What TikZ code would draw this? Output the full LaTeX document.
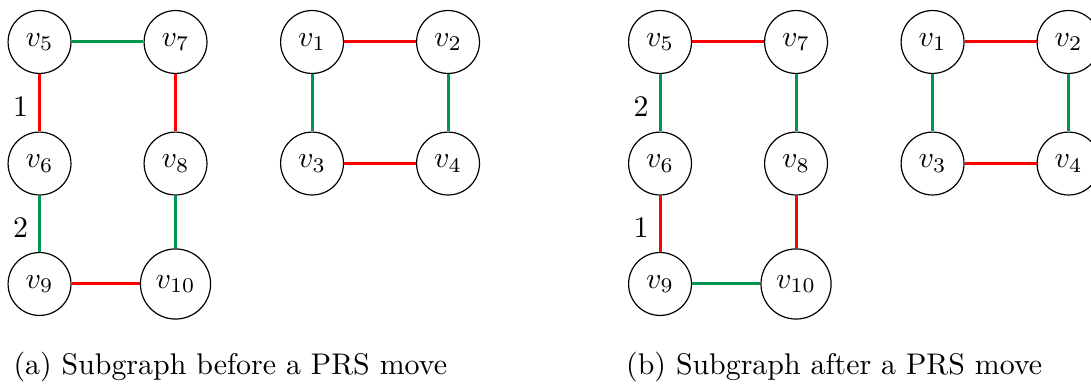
\documentclass[tikz,border=0pt]{standalone}
\usepackage{amsmath,amssymb}
\usepackage{tikz}
\usetikzlibrary{positioning}

\definecolor{edgegreen}{RGB}{0,150,80}

\begin{document}
\begin{tikzpicture}[vertex/.style={draw, circle, minimum size=0.74cm},
                    redge/.style={red, line width=1pt},
                    gedge/.style={edgegreen, line width=1pt},
                    elabel/.style={midway, left, text=black, yshift=-1.2pt}]

        \useasboundingbox (0,0) rectangle (12.835,-4.553);

        % Left subgraph, before the move

        \node[vertex] (a5) at (0.465,-0.494) {$v_5$};
        \node[vertex] (a7) at (2.065,-0.494) {$v_7$};
        \node[vertex] (a6) at (0.465,-1.924) {$v_6$};
        \node[vertex] (a8) at (2.065,-1.924) {$v_8$};
        \node[vertex] (a9) at (0.465,-3.341) {$v_9$};
        \node[vertex] (a10) at (2.065,-3.341) {$v_{10}$};

        \node[vertex] (a1) at (3.671,-0.494) {$v_1$};
        \node[vertex] (a2) at (5.271,-0.494) {$v_2$};
        \node[vertex] (a3) at (3.671,-1.924) {$v_3$};
        \node[vertex] (a4) at (5.271,-1.924) {$v_4$};

        \draw[gedge] (a5) -- (a7);
        \draw[redge] (a5) -- (a6) node[elabel] {1};
        \draw[redge] (a7) -- (a8);
        \draw[gedge] (a6) -- (a9) node[elabel] {2};
        \draw[gedge] (a8) -- (a10);
        \draw[redge] (a9) -- (a10);

        \draw[redge] (a1) -- (a2);
        \draw[gedge] (a1) -- (a3);
        \draw[gedge] (a2) -- (a4);
        \draw[redge] (a3) -- (a4);

        % Right subgraph, after the move

        \node[vertex] (b5) at (7.765,-0.494) {$v_5$};
        \node[vertex] (b7) at (9.365,-0.494) {$v_7$};
        \node[vertex] (b6) at (7.765,-1.924) {$v_6$};
        \node[vertex] (b8) at (9.365,-1.924) {$v_8$};
        \node[vertex] (b9) at (7.765,-3.341) {$v_9$};
        \node[vertex] (b10) at (9.365,-3.341) {$v_{10}$};

        \node[vertex] (b1) at (10.971,-0.494) {$v_1$};
        \node[vertex] (b2) at (12.571,-0.494) {$v_2$};
        \node[vertex] (b3) at (10.971,-1.924) {$v_3$};
        \node[vertex] (b4) at (12.571,-1.924) {$v_4$};

        \draw[redge] (b5) -- (b7);
        \draw[gedge] (b5) -- (b6) node[elabel] {2};
        \draw[gedge] (b7) -- (b8);
        \draw[redge] (b6) -- (b9) node[elabel] {1};
        \draw[redge] (b8) -- (b10);
        \draw[gedge] (b9) -- (b10);

        \draw[redge] (b1) -- (b2);
        \draw[gedge] (b1) -- (b3);
        \draw[gedge] (b2) -- (b4);
        \draw[redge] (b3) -- (b4);

        % Captions
        \node[anchor=base west, inner sep=0pt] (capa) at (0.153,-4.41) {(a) Subgraph before a PRS move};
        \node[anchor=base west, inner sep=0pt] (capb) at (7.36,-4.41) {(b) Subgraph after a PRS move};
    \end{tikzpicture}
\end{document}
